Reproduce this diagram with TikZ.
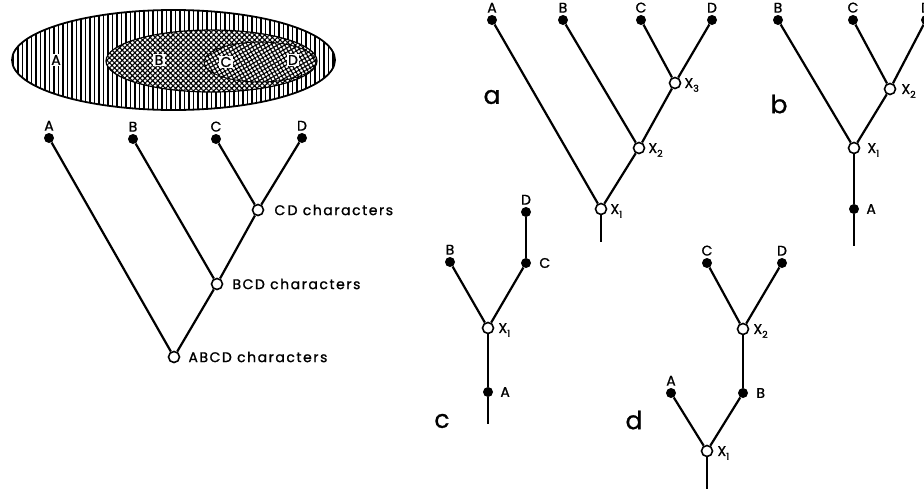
\documentclass[tikz,border=0pt]{standalone}
\usepackage{fontspec}
\setmainfont{Poppins}[FakeBold=1]
\newfontfamily\labfont{Poppins}[LetterSpace=11,FakeBold=1.2]
\usetikzlibrary{patterns.meta}
\newcommand\sbs[1]{\raisebox{-0.5ex}{\fontsize{9.5}{9.5}\selectfont #1}}
\begin{document}
\begin{tikzpicture}[x=1pt,y=-1pt,
  br/.style={line width=2.2pt},
  tip/.style={circle,fill=black,inner sep=0pt,minimum size=10pt},
  hub/.style={circle,draw=black,fill=white,line width=1.6pt,inner sep=0pt,minimum size=11pt},
  lbl/.style={font=\fontsize{14}{14}\selectfont\labfont,inner sep=1pt},
  tag/.style={font=\fontsize{25}{25}\selectfont,inner sep=0pt},
  inlbl/.style={font=\fontsize{14}{14}\selectfont\labfont,fill=white,inner sep=1.5pt}]
\useasboundingbox (0,0) rectangle (924,488);
\clip (0,0) rectangle (924,488);

% ---- ellipses ----
\path[draw,line width=1.8pt,pattern={Lines[angle=90,distance=4.5pt,line width=1.6pt]}]
  (173.5,60) ellipse [x radius=161.5pt, y radius=50pt];
\fill[white] (211.5,61) ellipse [x radius=105.5pt, y radius=31pt];
\path[draw,line width=1.2pt,pattern={Hatch[angle=45,distance=3.6pt,line width=1.1pt]}]
  (211.5,61) ellipse [x radius=105.5pt, y radius=31pt];
\fill[white] (260,62) ellipse [x radius=56pt, y radius=20pt];
\path[draw,line width=0.9pt,pattern={Hatch[angle=30,distance=3.6pt,line width=1.1pt]}]
  (260,62) ellipse [x radius=56pt, y radius=20pt];
\node[inlbl] (eA) at (56,60) {A};
\node[inlbl] (eB) at (159,60) {B};
\node[inlbl] (eC) at (226,62) {C};
\node[inlbl] (eD) at (293,60) {D};

% ---- left tree ----
\node[tip] (lA) at (49,138) {};
\node[tip] (lB) at (133,139) {};
\node[tip] (lC) at (216,139) {};
\node[tip] (lD) at (302,138) {};
\node[hub] (lCD) at (258,210) {};
\node[hub] (lBCD) at (217,284) {};
\node[hub] (lABCD) at (174,357) {};
\draw[br] (lA) -- (lABCD);
\draw[br] (lB) -- (lBCD);
\draw[br] (lC) -- (lCD);
\draw[br] (lD) -- (lCD);
\draw[br] (lCD) -- (lBCD);
\draw[br] (lBCD) -- (lABCD);
\node[lbl,above=1pt] (tlA) at (lA.north) {A};
\node[lbl,above=1pt] (tlB) at (lB.north) {B};
\node[lbl,above=1pt] (tlC) at (lC.north) {C};
\node[lbl,above=1pt] (tlD) at (lD.north) {D};
\node[lbl,right=9pt] (tlCD) at (lCD.east) {C\,D characters};
\node[lbl,right=8pt] (tlBCD) at (lBCD.east) {BCD characters};
\node[lbl,right=7pt] (tlABCD) at (lABCD.east) {ABCD characters};

% ---- tree a ----
\node[tip] (aA) at (492,20) {};
\node[tip] (aB) at (563,20) {};
\node[tip] (aC) at (641,20) {};
\node[tip] (aD) at (712,20) {};
\node[hub] (aX3) at (675,83) {};
\node[hub] (aX2) at (639,148) {};
\node[hub] (aX1) at (601,209) {};
\coordinate (aR) at (601,242);
\draw[br] (aA) -- (aX1);
\draw[br] (aB) -- (aX2);
\draw[br] (aC) -- (aX3);
\draw[br] (aD) -- (aX3);
\draw[br] (aX3) -- (aX2);
\draw[br] (aX2) -- (aX1);
\draw[br] (aX1) -- (aR);
\node[lbl,above=1pt] (taA) at (aA.north) {A};
\node[lbl,above=1pt] (taB) at (aB.north) {B};
\node[lbl,above=1pt] (taC) at (aC.north) {C};
\node[lbl,above=1pt] (taD) at (aD.north) {D};
\node[lbl,anchor=west,xshift=2pt,yshift=-2pt] (taX3) at (aX3.east) {X\sbs{3}};
\node[lbl,anchor=west,xshift=2pt,yshift=-2pt] (taX2) at (aX2.east) {X\sbs{2}};
\node[lbl,anchor=west,xshift=2pt,yshift=-2pt] (taX1) at (aX1.east) {X\sbs{1}};
\node[tag] (tga) at (492,97) {a};

% ---- tree b ----
\node[tip] (bB) at (778,20) {};
\node[tip] (bC) at (853,20) {};
\node[tip] (bD) at (926,20) {};
\node[hub] (bX2) at (890,89) {};
\node[hub] (bX1) at (854,148) {};
\node[tip] (bA) at (854,209) {};
\coordinate (bR) at (854,246);
\draw[br] (bB) -- (bX1);
\draw[br] (bC) -- (bX2);
\draw[br] (bD) -- (bX2);
\draw[br] (bX2) -- (bX1);
\draw[br] (bX1) -- (bA);
\draw[br] (bA) -- (bR);
\node[lbl,above=1pt] (tbB) at (bB.north) {B};
\node[lbl,above=1pt] (tbC) at (bC.north) {C};
\node[lbl,above=1pt] (tbD) at (bD.north) {D};
\node[lbl,anchor=west,xshift=4pt,yshift=-2pt] (tbX2) at (bX2.east) {X\sbs{2}};
\node[lbl,anchor=west,xshift=6pt,yshift=-2pt] (tbX1) at (bX1.east) {X\sbs{1}};
\node[lbl,anchor=west,xshift=6pt] (tbA) at (bA.east) {A};
\node[tag] (tgb) at (779,104) {b};

% ---- tree c ----
\node[tip] (cB) at (450,262) {};
\node[tip] (cC) at (526,263) {};
\node[tip] (cD) at (526,212) {};
\node[hub] (cX1) at (488,328) {};
\node[tip] (cA) at (488,392) {};
\coordinate (cR) at (488,424);
\draw[br] (cD) -- (cC);
\draw[br] (cB) -- (cX1);
\draw[br] (cC) -- (cX1);
\draw[br] (cX1) -- (cA);
\draw[br] (cA) -- (cR);
\node[lbl,above=1pt] (tcB) at (cB.north) {B};
\node[lbl,above=1pt] (tcD) at (cD.north) {D};
\node[lbl,anchor=west,xshift=7pt] (tcC) at (cC.east) {C};
\node[lbl,anchor=west,xshift=3pt,yshift=-2pt] (tcX1) at (cX1.east) {X\sbs{1}};
\node[lbl,anchor=west,xshift=6pt] (tcA) at (cA.east) {A};
\node[tag] (tgc) at (442,421) {c};

% ---- tree d ----
\node[tip] (dC) at (707,263) {};
\node[tip] (dD) at (782,263) {};
\node[hub] (dX2) at (743,329) {};
\node[tip] (dB) at (743,393) {};
\node[tip] (dA) at (671,393) {};
\node[hub] (dX1) at (707,451) {};
\coordinate (dR) at (707,490);
\draw[br] (dC) -- (dX2);
\draw[br] (dD) -- (dX2);
\draw[br] (dX2) -- (dB);
\draw[br] (dB) -- (dX1);
\draw[br] (dA) -- (dX1);
\draw[br] (dX1) -- (dR);
\node[lbl,above=1pt] (tdC) at (dC.north) {C};
\node[lbl,above=1pt] (tdD) at (dD.north) {D};
\node[lbl,above=1pt] (tdA) at (dA.north) {A};
\node[lbl,anchor=west,xshift=7pt] (tdB) at (dB.east) {B};
\node[lbl,anchor=west,xshift=3pt,yshift=-2pt] (tdX2) at (dX2.east) {X\sbs{2}};
\node[lbl,anchor=west,xshift=3pt,yshift=-2pt] (tdX1) at (dX1.east) {X\sbs{1}};
\node[tag] (tgd) at (634,420) {d};
\end{tikzpicture}
\end{document}
